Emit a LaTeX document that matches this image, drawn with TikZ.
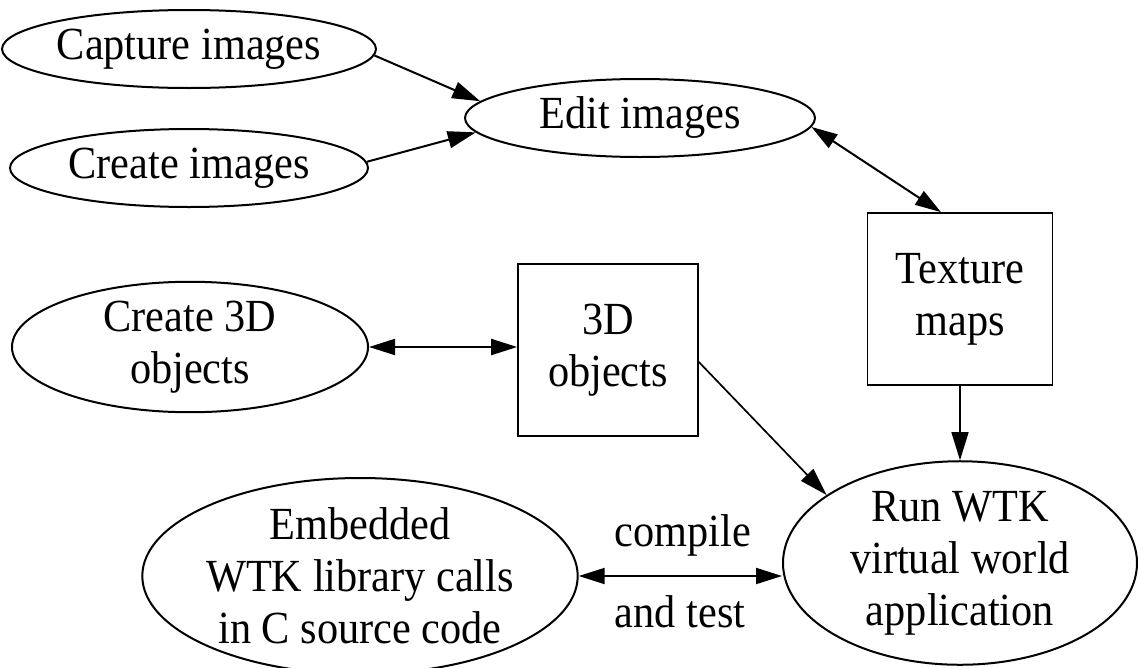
\documentclass[tikz,border=0pt]{standalone}
\usepackage{fontspec}
\setmainfont{Liberation Serif}[FakeStretch=0.92]
\usetikzlibrary{shapes.geometric,arrows.meta}
\begin{document}
\begin{tikzpicture}[x=1pt,y=-1pt,
  every node/.style={font=\fontsize{46}{52}\selectfont, align=center},
  ell/.style={ellipse, draw, line width=2pt, inner sep=0pt},
  box/.style={rectangle, draw, line width=1.7pt, inner sep=0pt},
  tip/.style={Triangle[length=28pt,width=17pt]},
  con/.style={line width=2pt, -{Triangle[length=28pt,width=17pt]}},
  bicon/.style={line width=2pt, {Triangle[length=26pt,width=16pt]}-{Triangle[length=26pt,width=16pt]}},
  lab/.style={inner sep=0pt}]
\useasboundingbox (0,0) rectangle (1138,667);
\node[ell, minimum width=358pt, minimum height=78pt] (cap) at (189,49) {Capture images};
\node[ell, minimum width=358pt, minimum height=78pt] (cre) at (189,168) {Create images};
\node[ell, minimum width=350pt, minimum height=78pt] (edit) at (640,118) {Edit images};
\node[box, minimum width=185pt, minimum height=172pt] (tex) at (960,299) {Texture\\maps};
\node[box, minimum width=180pt, minimum height=172pt] (td) at (608,350) {3D\\objects};
\node[ell, minimum width=356pt, minimum height=117pt] (c3d) at (190,347) {Create 3D\\objects};
\node[ell, minimum width=424pt, minimum height=196pt] (emb) at (360,576) {Embedded\\WTK library calls\\in C source code};
\node[ell, minimum width=354pt, minimum height=182pt] (run) at (960,563) {Run WTK\\virtual world\\application};
\node[lab] (comp) at (683,535) {compile};
\node[lab] (test) at (680,612) {and test};
\draw[con] (cap.-2) -- (edit.174);
\draw[con] (cre.2) -- (edit.185);
\draw[bicon] (edit.-3) -- ([xshift=-19pt]tex.north);
\draw[con, line width=1.5pt] (tex.south) -- (run.north);
\draw[con, line width=1.7pt] ([yshift=-12pt]td.east) -- (run.153);
\draw[bicon] (c3d.east) -- (c3d.east -| td.west);
\draw[bicon] (emb.east) -- (emb.east -| run.west);
\end{tikzpicture}
\end{document}
